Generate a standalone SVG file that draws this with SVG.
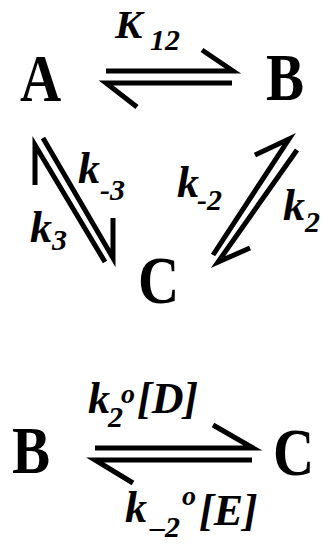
<svg xmlns="http://www.w3.org/2000/svg" width="323" height="546" viewBox="0 0 323 546">
<style>
.big{font-family:'Liberation Serif','Times New Roman',serif;font-weight:700;font-size:68px;fill:#000}
.it{font-family:'Liberation Serif','Times New Roman',serif;font-weight:700;font-style:italic;fill:#000}
.lbl{font-size:44px}
.sub{font-size:30px}
.sup{font-size:28px}
.arr{stroke:#000;stroke-width:5;fill:none;stroke-linecap:butt;stroke-linejoin:miter}
</style>
<rect width="323" height="546" fill="#fff"/>
<g id="nodes">
<g id="A"><text class="big" transform="matrix(0.84 0 0 1 20 101)">A</text></g>
<g id="B"><text class="big" transform="matrix(0.84 0 0 1 266 100)">B</text></g>
<g id="C"><text class="big" transform="matrix(0.84 0 0 1 138 303)">C</text></g>
<g id="B2"><text class="big" transform="matrix(0.84 0 0 1 12 473)">B</text></g>
<g id="C2"><text class="big" transform="matrix(0.84 0 0 1 273 475)">C</text></g>
</g>
<g id="connectors">
<g id="AB">
<path class="arr" d="M106 71H233L202 50"/>
<path class="arr" d="M232 83H106L137 107"/>
<text class="it" font-size="41" x="115" y="38">K</text><text class="it sub" x="150" y="50">12</text>
</g>
<g id="AC">
<path class="arr" d="M105 262L35 145V185"/>
<path class="arr" d="M43 138L113 258V218"/>
<text class="it lbl" x="78" y="183">k</text><text class="it sub" x="100" y="200">-3</text>
<text class="it lbl" x="30" y="242">k</text><text class="it sub" x="52" y="250">3</text>
</g>
<g id="BC">
<path class="arr" d="M213 255L289 139L255 155"/>
<path class="arr" d="M297 150L218 262L250 248"/>
<text class="it lbl" x="177" y="197">k</text><text class="it sub" x="197" y="210">-2</text>
<text class="it lbl" x="283" y="220">k</text><text class="it sub" x="305" y="232">2</text>
</g>
<g id="BC2">
<path class="arr" d="M95 448H253L213 425"/>
<path class="arr" d="M252 460H95L133 483"/>
<text class="it lbl" x="88" y="413">k</text><text class="it sub" x="108" y="427">2</text><text class="it sup" x="121" y="403">o</text><text class="it lbl" x="137" y="413">[D]</text>
<text class="it lbl" x="125" y="522">k</text><text class="it sub" x="150" y="537">–2</text><text class="it sup" x="182" y="505">o</text><text class="it lbl" x="199" y="525">[E]</text>
</g>
</g>
</svg>
